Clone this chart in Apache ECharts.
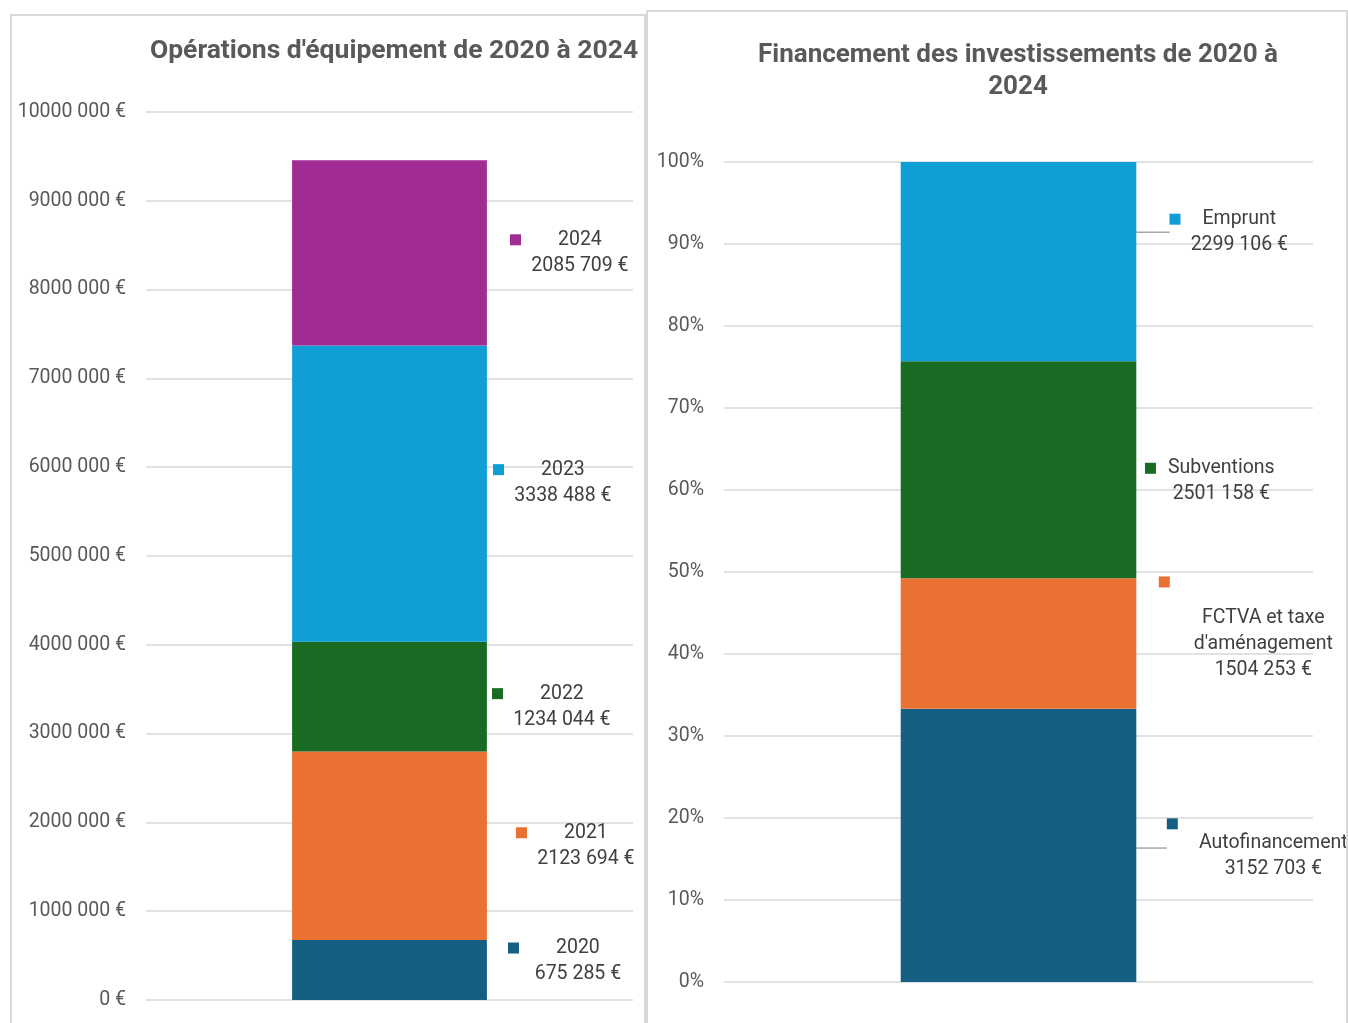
<!DOCTYPE html>
<html><head><meta charset="utf-8">
<script src="https://cdn.jsdelivr.net/npm/echarts@6/dist/echarts.min.js"></script>
<style>
html,body{margin:0;padding:0;background:#fff;overflow:hidden;width:1348px;height:1023px;}
.box{position:absolute;box-sizing:border-box;border:2px solid #d9d9d9;background:#fff;}
#c1{left:10px;top:14px;width:636px;height:1020px;}
#c2{left:646px;top:10px;width:702px;height:1024px;}
</style></head><body>
<div id="c1" class="box"></div>
<div id="c2" class="box"></div>
<script>
const NS = '\u00a0';
// ---- Left chart data ----
const yearNames = ['2020', '2021', '2022', '2023', '2024'];
const yearValues = [675285, 2123694, 1234044, 3338488, 2085709];
const leftTickLabels = ['0\u00a0€', '1000\u00a0000\u00a0€', '2000\u00a0000\u00a0€', '3000\u00a0000\u00a0€', '4000\u00a0000\u00a0€',
  '5000\u00a0000\u00a0€', '6000\u00a0000\u00a0€', '7000\u00a0000\u00a0€', '8000\u00a0000\u00a0€', '9000\u00a0000\u00a0€', '10000\u00a0000\u00a0€'];
// ---- Right chart data ----
const financeNames = ['Autofinancement', "FCTVA et taxe\nd'aménagement", 'Subventions', 'Emprunt'];
const financeValues = [3152703, 1504253, 2501158, 2299106];
const rightTickLabels = ['0%', '10%', '20%', '30%', '40%', '50%', '60%', '70%', '80%', '90%', '100%'];

// ---- styles ----
const FONT = 'Roboto, "Liberation Sans", sans-serif';
const LFS = 19.5;
const yearColors = ['#156082', '#E97132', '#196B24', '#0F9ED5', '#A02B93'];
const financeColors = ['#156082', '#E97132', '#196B24', '#0F9ED5'];
const yearLabelLayout = [
  {dx: 91, dy: -9, gap: 37}, {dx: 99, dy: 0, gap: 37}, {dx: 75, dy: 10, gap: 37},
  {dx: 76, dy: -11, gap: 37}, {dx: 93, dy: 0, gap: 37}
];

function fmtEuro(v) {
  if (v >= 1000) return Math.floor(v / 1000) + NS + String(v % 1000).padStart(3, '0') + NS + '€';
  return v + NS + '€';
}

const axisLabelStyle = {color: '#595959', fontSize: LFS, fontFamily: FONT, margin: 20};
const splitLineStyle = {show: true, lineStyle: {color: '#d9d9d9', width: 1.5}};

// ---- Chart 1 ----
const c1 = echarts.init(document.getElementById('c1'));
c1.setOption({
  animation: false,
  graphic: [{
    type: 'text', x: 382, y: 35,
    style: {text: "Opérations d'équipement de 2020 à 2024", fill: '#595959',
      font: 'bold 26.5px ' + FONT, align: 'center', verticalAlign: 'middle'}
  }],
  grid: {left: 134, top: 96, width: 487, height: 888},
  xAxis: {type: 'category', data: ['Total'], axisLine: {show: false}, axisTick: {show: false}, axisLabel: {show: false}},
  yAxis: {type: 'value', min: 0, max: 10000000, interval: 1000000,
    axisLine: {show: false}, axisTick: {show: false},
    axisLabel: Object.assign({}, axisLabelStyle, {formatter: v => leftTickLabels[Math.round(v / 1000000)]}),
    splitLine: splitLineStyle},
  series: yearNames.map((name, i) => {
    const L = yearLabelLayout[i];
    return {
      type: 'bar', name: name, stack: 'total', barWidth: '40%',
      itemStyle: {color: yearColors[i]},
      data: [yearValues[i]],
      label: {
        show: true, position: ['100%', '50%'], offset: [L.dx, L.dy],
        align: 'center', verticalAlign: 'middle',
        fontFamily: FONT, fontSize: LFS, color: '#404040', lineHeight: 26,
        formatter: '{sq|}{g|}' + name + '{g|}{sh|}\n' + fmtEuro(yearValues[i]),
        rich: {
          sq: {width: 11, height: 11, backgroundColor: yearColors[i]},
          sh: {width: 11, height: 11},
          g: {width: L.gap}
        }
      }
    };
  })
});

// ---- Chart 2 ----
const total = financeValues.reduce((a, b) => a + b, 0);
const financeLabel = [
  { // Autofinancement
    dx: 137, dy: 5, line: true,
    fmt: () => '{sq|}{a|}\nAutofinancement\n' + fmtEuro(financeValues[0]),
    rich: c => ({sq: {width: 11, height: 11, lineHeight: 12, verticalAlign: 'top', backgroundColor: c}, a: {width: 202, lineHeight: 12}})
  },
  { // FCTVA
    dx: 127, dy: -13.5, line: false,
    fmt: () => '{sq|}{a|}\nFCTVA et taxe\nd\'aménagement\n' + fmtEuro(financeValues[1]),
    rich: c => ({sq: {width: 11, height: 11, lineHeight: 29, verticalAlign: 'top', backgroundColor: c}, a: {width: 198, lineHeight: 29}})
  },
  { // Subventions
    dx: 85, dy: 11.5, line: false,
    fmt: () => '{sq|}{g|}Subventions{g|}{sh|}\n' + fmtEuro(financeValues[2]),
    rich: c => ({sq: {width: 11, height: 11, backgroundColor: c}, sh: {width: 11, height: 11}, g: {width: 12}})
  },
  { // Emprunt
    dx: 103, dy: -29.5, line: true,
    fmt: () => '{sq|}{g|}Emprunt{g|}{sh|}\n' + fmtEuro(financeValues[3]),
    rich: c => ({sq: {width: 11, height: 11, backgroundColor: c}, sh: {width: 11, height: 11}, g: {width: 22}})
  }
];
const c2 = echarts.init(document.getElementById('c2'));
c2.setOption({
  animation: false,
  graphic: [{
    type: 'text', x: 370, y: 59,
    style: {text: 'Financement des investissements de 2020 à\n2024', fill: '#595959',
      font: 'bold 26px ' + FONT, lineHeight: 32, align: 'center', verticalAlign: 'middle'}
  }],
  grid: {left: 76, top: 150, width: 589, height: 820},
  xAxis: {type: 'category', data: ['Total'], axisLine: {show: false}, axisTick: {show: false}, axisLabel: {show: false}},
  yAxis: {type: 'value', min: 0, max: 100, interval: 10,
    axisLine: {show: false}, axisTick: {show: false},
    axisLabel: Object.assign({}, axisLabelStyle, {formatter: v => rightTickLabels[Math.round(v / 10)]}),
    splitLine: splitLineStyle},
  series: financeNames.map((name, i) => {
    const L = financeLabel[i];
    const s = {
      type: 'bar', name: name, stack: 'total', barWidth: '40%',
      itemStyle: {color: financeColors[i]},
      data: [financeValues[i] / total * 100],
      label: {
        show: true, position: ['100%', '50%'],
        align: 'center', verticalAlign: 'middle',
        fontFamily: FONT, fontSize: LFS, color: '#404040', lineHeight: 26,
        formatter: L.fmt(),
        rich: L.rich(financeColors[i])
      }
    };
    if (L.line) {
      s.labelLayout = {dx: L.dx, dy: L.dy};
      s.labelLine = {show: true, length2: 6, lineStyle: {color: '#a6a6a6', width: 1.5}};
    } else {
      s.label.offset = [L.dx, L.dy];
    }
    return s;
  })
});
</script>
</body></html>
